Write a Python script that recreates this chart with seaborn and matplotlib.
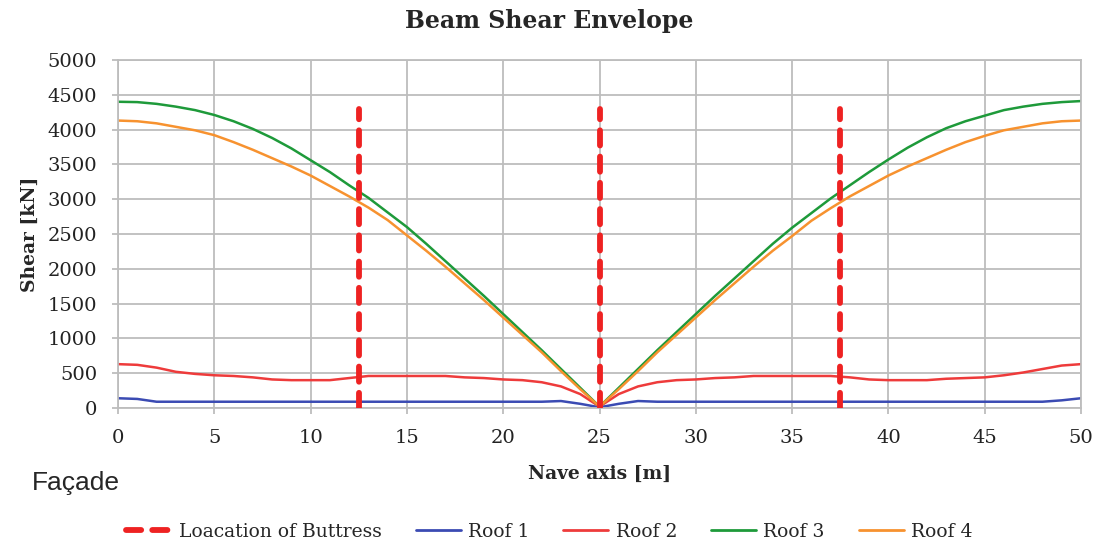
import matplotlib
matplotlib.use("Agg")
import matplotlib.pyplot as plt
import seaborn as sns
import pandas as pd

x_m = list(range(0, 51))
roof1 = [140, 130, 90, 90, 90, 90, 90, 90, 90, 90, 90, 90, 90, 90, 90, 90, 90, 90, 90, 90,
         90, 90, 90, 100, 60, 10, 60, 100, 90, 90, 90, 90, 90, 90, 90, 90, 90, 90, 90, 90,
         90, 90, 90, 90, 90, 90, 90, 90, 90, 110, 140]
roof2 = [630, 620, 580, 520, 490, 470, 460, 440, 410, 400, 400, 400, 430, 460, 460, 460, 460, 460, 440, 430,
         410, 400, 370, 310, 200, 20, 200, 310, 370, 400, 410, 430, 440, 460, 460, 460, 460, 460, 440, 410,
         400, 400, 400, 420, 430, 440, 470, 510, 560, 610, 630]
roof3 = [4400, 4395, 4370, 4330, 4280, 4210, 4120, 4010, 3880, 3730, 3560, 3390, 3200, 3020, 2810, 2600, 2360, 2110, 1860, 1610,
         1350, 1090, 830, 560, 290, 20, 290, 560, 830, 1090, 1350, 1610, 1860, 2110, 2360, 2590, 2800, 3010, 3200, 3390,
         3570, 3740, 3890, 4020, 4120, 4200, 4280, 4330, 4370, 4395, 4410]
roof4 = [4130, 4120, 4090, 4040, 3990, 3920, 3820, 3710, 3590, 3470, 3340, 3190, 3040, 2880, 2700, 2480, 2260, 2030, 1790, 1550,
         1300, 1050, 800, 530, 270, 20, 270, 530, 800, 1050, 1300, 1550, 1790, 2030, 2260, 2470, 2690, 2870, 3040, 3190,
         3340, 3470, 3590, 3710, 3820, 3910, 3990, 4040, 4090, 4120, 4130]
buttress_x = [12.5, 25, 37.5]
buttress_top = 4300

series_names = ["Roof 1", "Roof 2", "Roof 3", "Roof 4"]
series_colors = ["#3b4bb3", "#ee3b3b", "#1e9a3a", "#f7922f"]

df = pd.DataFrame({"x": x_m * 4,
                   "Shear": roof1 + roof2 + roof3 + roof4,
                   "Series": sum([[n] * len(x_m) for n in series_names], [])})

sns.set_theme(style="whitegrid")
plt.rcParams["font.family"] = ["DejaVu Serif"]

fig = plt.figure(figsize=(10.99, 5.5), dpi=100)
ax = fig.add_axes([0.1074, 0.2582, 0.8762, 0.6327])

handles = []
for bx in buttress_x:
    h, = ax.plot([bx, bx], [0, buttress_top], color="#ee2222", lw=4.2,
                 dashes=(2.6, 1.9), dash_capstyle="round", zorder=3)
handles.append(h)

sns.lineplot(data=df, x="x", y="Shear", hue="Series", palette=series_colors,
             hue_order=series_names, ax=ax, lw=1.8, legend=False, zorder=2)
for n, c in zip(series_names, series_colors):
    handles.append(plt.Line2D([], [], color=c, lw=2))

ax.set_xlim(0, 50)
ax.set_ylim(0, 5000)
ax.set_xticks(range(0, 51, 5))
ax.set_yticks(range(0, 5001, 500))
ax.tick_params(axis="both", labelsize=14, labelcolor="#222222", color="#bdbdbd",
               length=4, width=1.3, pad=11, direction="out")
ax.tick_params(axis="x", bottom=True)
ax.tick_params(axis="y", left=True)
ax.grid(True, color="#bdbdbd", lw=1.3)
for s in ax.spines.values():
    s.set_color("#bdbdbd")
    s.set_linewidth(1.3)

ax.set_xlabel("Nave axis [m]", fontsize=13.5, fontweight="bold", labelpad=13)
ax.set_ylabel("Shear [kN]", fontsize=13.5, fontweight="bold", labelpad=6)
fig.text(0.5, 0.962, "Beam Shear Envelope", ha="center", va="center",
         fontsize=17, fontweight="bold")
fig.text(0.029, 0.122, "Façade", ha="left", va="center", fontsize=19,
         family=["Liberation Sans", "DejaVu Sans"])

fig.legend(handles, ["Loacation of Buttress"] + series_names, loc="center",
           bbox_to_anchor=(0.5, 0.033), ncol=5, frameon=False, fontsize=13.5,
           handlelength=2.4, columnspacing=1.8, handletextpad=0.4)

fig.savefig("out.png", dpi=100)
